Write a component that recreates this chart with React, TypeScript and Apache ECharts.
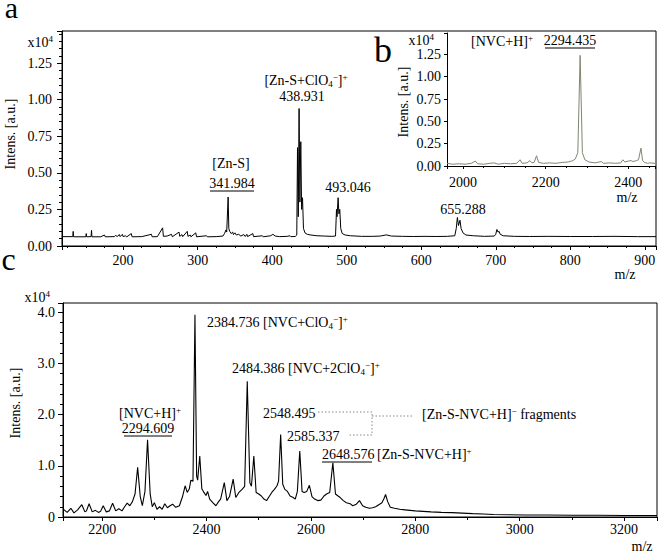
import React, { useEffect, useRef } from 'react';
import * as echarts from 'echarts';

// Panel a: m/z vs intensity (x10^4)
const SPEC_A: [number, number][] = [
  [118, 0.064], [132.5, 0.064], [133, 0.1], [133.5, 0.063], [150, 0.063], [150.5, 0.085], [151, 0.063],
  [157, 0.064], [157.6, 0.107], [158.2, 0.063], [170, 0.063], [175, 0.075], [176, 0.063], [188, 0.064],
  [190, 0.072], [192, 0.065], [195, 0.078], [196, 0.064], [199, 0.08], [200, 0.064], [203, 0.07],
  [205, 0.063], [211, 0.085], [212, 0.063], [225, 0.064], [238, 0.08], [239, 0.063], [246, 0.064],
  [253, 0.124], [254, 0.066], [259, 0.068], [265, 0.08], [266, 0.063], [275, 0.095], [276, 0.066],
  [279, 0.078], [280, 0.064], [286, 0.1], [287, 0.066], [290, 0.075], [291, 0.063], [297.5, 0.09],
  [298.5, 0.063], [312, 0.07], [313, 0.063], [325, 0.064], [334, 0.068], [336, 0.085], [338, 0.11],
  [339, 0.095], [340.9, 0.335], [341.8, 0.12], [343, 0.1], [345, 0.085], [347, 0.095], [348, 0.078],
  [350, 0.09], [352, 0.075], [355, 0.08], [358, 0.068], [362, 0.078], [364, 0.065], [366, 0.08],
  [367, 0.064], [374, 0.085], [375, 0.064], [387, 0.07], [388, 0.063], [398, 0.07], [401, 0.08],
  [404, 0.068], [410, 0.064], [420, 0.066], [424, 0.07], [425, 0.064], [431, 0.065], [433, 0.075],
  [434, 0.673], [435, 0.2], [436.1, 0.94], [437.2, 0.3], [438.4, 0.713], [439.5, 0.25], [440.7, 0.33],
  [442, 0.12], [444, 0.09], [447, 0.08], [452, 0.075], [460, 0.07], [470, 0.068], [480, 0.066],
  [485, 0.068], [486.3, 0.25], [487, 0.2], [488.5, 0.33], [489.5, 0.22], [490.7, 0.25], [492, 0.12],
  [494, 0.085], [498, 0.075], [505, 0.07], [520, 0.066], [535, 0.066], [545, 0.068], [553, 0.076],
  [560, 0.068], [575, 0.066], [590, 0.065], [605, 0.066], [620, 0.065], [635, 0.066], [645, 0.07],
  [647, 0.12], [648.5, 0.195], [650, 0.14], [652, 0.176], [653.5, 0.12], [656, 0.09], [660, 0.075],
  [670, 0.07], [685, 0.066], [698, 0.068], [700, 0.08], [701.5, 0.113], [703, 0.095], [704.5, 0.1],
  [706, 0.08], [710, 0.07], [725, 0.066], [745, 0.065], [770, 0.066], [800, 0.065], [830, 0.065],
  [860, 0.066], [890, 0.064], [915, 0.064],
];

// Panel b (inset)
const SPEC_B: [number, number][] = [
  [1961, 0.03], [1975, 0.02], [1990, 0.025], [2005, 0.02], [2020, 0.03], [2030, 0.055], [2035, 0.025],
  [2050, 0.02], [2065, 0.03], [2075, 0.035], [2085, 0.02], [2100, 0.03], [2115, 0.025], [2130, 0.03],
  [2138, 0.07], [2143, 0.03], [2155, 0.035], [2162, 0.06], [2167, 0.035], [2172, 0.04], [2178, 0.115],
  [2183, 0.04], [2195, 0.03], [2210, 0.035], [2225, 0.03], [2240, 0.04], [2255, 0.045], [2266, 0.06],
  [2272, 0.08], [2278, 0.15], [2283.6, 1.24], [2289, 0.15], [2295, 0.07], [2305, 0.045], [2320, 0.035],
  [2335, 0.05], [2340, 0.03], [2355, 0.035], [2370, 0.03], [2382, 0.035], [2387, 0.07], [2392, 0.045],
  [2400, 0.055], [2407, 0.06], [2412, 0.05], [2420, 0.06], [2425, 0.07], [2431, 0.2], [2435, 0.06],
  [2440, 0.04], [2447, 0.03], [2452, 0.035], [2465, 0.03],
];

// Panel c
const SPEC_C: [number, number][] = [
  [2126, 0.15], [2133, 0.09], [2140, 0.17], [2146, 0.08], [2153, 0.14], [2161, 0.24], [2167, 0.1],
  [2170, 0.12], [2175, 0.26], [2181, 0.1], [2187, 0.13], [2193, 0.09], [2197, 0.11], [2202, 0.22],
  [2208, 0.1], [2214, 0.12], [2220, 0.27], [2226, 0.12], [2232, 0.16], [2238, 0.12], [2243, 0.2],
  [2248, 0.27], [2253, 0.22], [2258, 0.3], [2263, 0.45], [2268, 0.97], [2273, 0.4], [2277, 0.22],
  [2282, 0.5], [2287, 1.51], [2292, 0.45], [2296, 0.2], [2300, 0.28], [2305, 0.15], [2310, 0.2],
  [2315, 0.15], [2320, 0.26], [2325, 0.18], [2330, 0.22], [2335, 0.25], [2341, 0.19], [2348, 0.22],
  [2354, 0.4], [2359, 0.61], [2363, 0.48], [2367, 0.55], [2370, 0.72], [2374, 0.7], [2377.8, 3.95],
  [2381, 0.8], [2383, 0.72], [2387, 1.19], [2391, 0.55], [2395, 0.48], [2399, 0.42], [2402, 0.5],
  [2406, 0.35], [2412, 0.28], [2418, 0.22], [2423, 0.3], [2427, 0.35], [2434, 0.67], [2439, 0.32],
  [2444, 0.4], [2451, 0.74], [2456, 0.38], [2462, 0.48], [2468, 0.54], [2473, 0.6], [2478, 2.65],
  [2483, 0.67], [2486, 0.6], [2490.6, 1.19], [2495, 0.48], [2500, 0.45], [2505, 0.41], [2510, 0.35],
  [2515, 0.32], [2520, 0.4], [2525, 0.48], [2530, 0.54], [2535, 0.61], [2538, 0.7], [2542, 1.61],
  [2546, 0.64], [2550, 0.54], [2555, 0.5], [2560, 0.41], [2566, 0.38], [2570, 0.35], [2574, 0.5],
  [2578.6, 1.29], [2583, 0.5], [2587, 0.48], [2592, 0.5], [2597, 0.62], [2602, 0.4], [2607, 0.35],
  [2613, 0.32], [2619, 0.33], [2625, 0.41], [2630, 0.45], [2636, 0.48], [2642, 1.06], [2647, 0.45],
  [2652, 0.41], [2656, 0.38], [2662, 0.32], [2668, 0.28], [2675, 0.26], [2680, 0.22], [2687, 0.25],
  [2693, 0.32], [2699, 0.22], [2705, 0.19], [2712, 0.17], [2718, 0.18], [2724, 0.2], [2730, 0.24],
  [2736, 0.28], [2740, 0.36], [2743, 0.44], [2747, 0.3], [2752, 0.19], [2760, 0.17], [2770, 0.15],
  [2780, 0.14], [2790, 0.13], [2800, 0.12], [2815, 0.11], [2830, 0.1], [2850, 0.09], [2870, 0.085],
  [2890, 0.075], [2910, 0.065], [2930, 0.06], [2950, 0.05], [2980, 0.045], [3010, 0.04], [3050, 0.04],
  [3100, 0.035], [3150, 0.035], [3200, 0.03], [3263, 0.03],
];

const FAM = 'Liberation Serif';

const RICH = {
  sup: { fontSize: 9, fontFamily: FAM, fill: '#000', verticalAlign: 'top', lineHeight: 9 },
  sub: { fontSize: 9, fontFamily: FAM, fill: '#000', verticalAlign: 'bottom', lineHeight: 9 },
};

function T(x: number, y: number, text: string, opt: any = {}) {
  return {
    type: 'text',
    x,
    y,
    z: 100,
    rotation: opt.rot || 0,
    style: {
      text,
      fontSize: opt.size || 14,
      fontFamily: FAM,
      fill: opt.fill || '#000',
      align: opt.align || 'center',
      verticalAlign: 'middle',
      lineHeight: opt.lh || 16,
      rich: RICH,
    },
  };
}

function L(x1: number, y1: number, x2: number, y2: number, stroke = '#000', dash?: number[]) {
  return {
    type: 'line',
    z: 100,
    shape: { x1, y1, x2, y2 },
    style: { stroke, lineWidth: 1, lineDash: dash },
  };
}

const labelStyle = { color: '#000', fontFamily: FAM, fontSize: 14 };

export default function App() {
  const ref = useRef<HTMLDivElement>(null);
  useEffect(() => {
    if (!ref.current) return;
    const chart = echarts.init(ref.current, null, { renderer: 'svg' });
    const dim = '#888';
    const option: any = {
      animation: false,
      backgroundColor: '#fff',
      textStyle: { fontFamily: FAM },
      grid: [
        { left: 62, top: 31, width: 594, height: 215, show: true, borderColor: '#000', borderWidth: 1, backgroundColor: '#fff' },
        { left: 447, top: 33, width: 208, height: 133, show: true, borderColor: 'transparent', borderWidth: 0, backgroundColor: '#fff' },
        { left: 63, top: 303, width: 595, height: 214, show: true, borderColor: '#000', borderWidth: 1, backgroundColor: '#fff' },
      ],
      xAxis: [
        {
          gridIndex: 0, type: 'value', min: 118, max: 915, splitNumber: 8,
          axisLine: { lineStyle: { color: '#000' } },
          axisTick: { length: 4, lineStyle: { color: '#000' } },
          minorTick: { show: true, splitNumber: 4, length: 2, lineStyle: { color: '#000' } },
          splitLine: { show: false },
          axisLabel: { ...labelStyle, margin: 7, formatter: (v: number) => (Math.abs(v % 100) < 1e-6 ? String(v) : '') },
        },
        {
          gridIndex: 1, type: 'value', min: 1961, max: 2465, splitNumber: 3,
          axisLine: { lineStyle: { color: '#000' } },
          axisTick: { length: 3, lineStyle: { color: '#000' } },
          minorTick: { show: true, splitNumber: 4, length: 2, lineStyle: { color: '#000' } },
          splitLine: { show: false },
          axisLabel: { ...labelStyle, margin: 9, formatter: (v: number) => (Math.abs(v % 200) < 1e-6 ? String(v) : '') },
        },
        {
          gridIndex: 2, type: 'value', min: 2125, max: 3263, splitNumber: 6,
          axisLine: { lineStyle: { color: '#000' } },
          axisTick: { length: 4, lineStyle: { color: '#000' } },
          minorTick: { show: true, splitNumber: 2, length: 3, lineStyle: { color: '#000' } },
          splitLine: { show: false },
          axisLabel: { ...labelStyle, margin: 5, formatter: (v: number) => (Math.abs(v % 200) < 1e-6 ? String(v) : '') },
        },
      ],
      yAxis: [
        {
          gridIndex: 0, type: 'value', min: 0, max: 1.47, interval: 0.25,
          axisLine: { show: true, lineStyle: { color: '#000' } },
          axisTick: { show: true, length: 5, lineStyle: { color: '#000' } },
          minorTick: { show: true, splitNumber: 5, length: 3, lineStyle: { color: '#000' } },
          splitLine: { show: false },
          axisLabel: { ...labelStyle, margin: 10, formatter: (v: number) => (v > 1.3 ? '' : v.toFixed(2)) },
        },
        {
          gridIndex: 1, type: 'value', min: 0, max: 1.49, interval: 0.25,
          axisLine: { show: true, lineStyle: { color: '#000' } },
          axisTick: { show: true, length: 3, lineStyle: { color: '#000' } },
          splitLine: { show: false },
          axisLabel: { ...labelStyle, margin: 6, formatter: (v: number) => (v > 1.3 ? '' : v.toFixed(2)) },
        },
        {
          gridIndex: 2, type: 'value', min: 0, max: 4.18, interval: 1,
          axisLine: { show: true, lineStyle: { color: '#000' } },
          axisTick: { show: true, length: 5, lineStyle: { color: '#000' } },
          minorTick: { show: true, splitNumber: 5, length: 3, lineStyle: { color: '#000' } },
          splitLine: { show: false },
          axisLabel: { ...labelStyle, margin: 8, formatter: (v: number) => (v > 4.05 ? '' : v === 0 ? '0' : v.toFixed(1)) },
        },
      ],
      series: [
        { type: 'line', xAxisIndex: 0, yAxisIndex: 0, data: SPEC_A, showSymbol: false, symbol: 'none', lineStyle: { color: '#000', width: 1 } },
        { type: 'line', xAxisIndex: 1, yAxisIndex: 1, data: SPEC_B, showSymbol: false, symbol: 'none', lineStyle: { color: '#7d8770', width: 1 } },
        { type: 'line', xAxisIndex: 2, yAxisIndex: 2, data: SPEC_C, showSymbol: false, symbol: 'none', lineStyle: { color: '#000', width: 1.1 } },
      ],
      graphic: [
        // panel a
        T(11.5, 7, 'a', { size: 30, lh: 12 }),
        T(53, 42, 'x10{sup|4}', { align: 'right' }),
        T(10, 134, 'Intens. [a.u.]', { rot: Math.PI / 2 }),
        T(625, 274, 'm/z'),
        T(231, 163, '[Zn-S]'),
        T(232, 183, '341.984'),
        L(210, 191, 254, 191),
        T(306, 80, '[Zn-S+ClO{sub|4}{sup|−}]{sup|+}'),
        T(302, 96, '438.931'),
        T(348, 187, '493.046'),
        T(463, 209, '655.288'),
        // panel b
        T(383, 50, 'b', { size: 36 }),
        T(434, 40, 'x10{sup|4}', { align: 'right' }),
        T(403, 102, 'Intens. [a.u.]', { rot: Math.PI / 2 }),
        T(627, 197, 'm/z'),
        T(502, 41, '[NVC+H]{sup|+}'),
        T(570, 40, '2294.435'),
        L(545, 48, 595, 48),
        // panel c
        T(8.5, 259, 'c', { size: 32 }),
        T(50, 297, 'x10{sup|4}', { align: 'right' }),
        T(15, 403, 'Intens. [a.u.]', { rot: Math.PI / 2 }),
        T(642, 546, 'm/z'),
        T(207, 322, '2384.736 [NVC+ClO{sub|4}{sup|−}]{sup|+}', { align: 'left' }),
        T(232, 368, '2484.386 [NVC+2ClO{sub|4}{sup|−}]{sup|+}', { align: 'left' }),
        T(150, 413, '[NVC+H]{sup|+}'),
        T(148, 428, '2294.609'),
        L(124, 436, 172, 436),
        T(263, 413, '2548.495', { align: 'left' }),
        T(287, 436, '2585.337', { align: 'left' }),
        {
          type: 'polyline', z: 100,
          shape: { points: [[318, 412], [372, 412], [372, 435], [348, 435]] },
          style: { stroke: dim, lineWidth: 1, lineDash: [1.5, 2], fill: null },
        },
        L(372, 416, 413, 416, dim, [1.5, 2]),
        T(422, 414, '[Zn-S-NVC+H]{sup|−} fragments', { align: 'left' }),
        T(322, 454, '2648.576', { align: 'left' }),
        L(322, 462, 372, 462),
        T(377, 454, '[Zn-S-NVC+H]{sup|+}', { align: 'left' }),
      ],
    };
    chart.setOption(option);
    return () => chart.dispose();
  }, []);
  return <div ref={ref} style={{ position: 'fixed', left: 0, top: 0, width: 660, height: 555 }} />;
}
